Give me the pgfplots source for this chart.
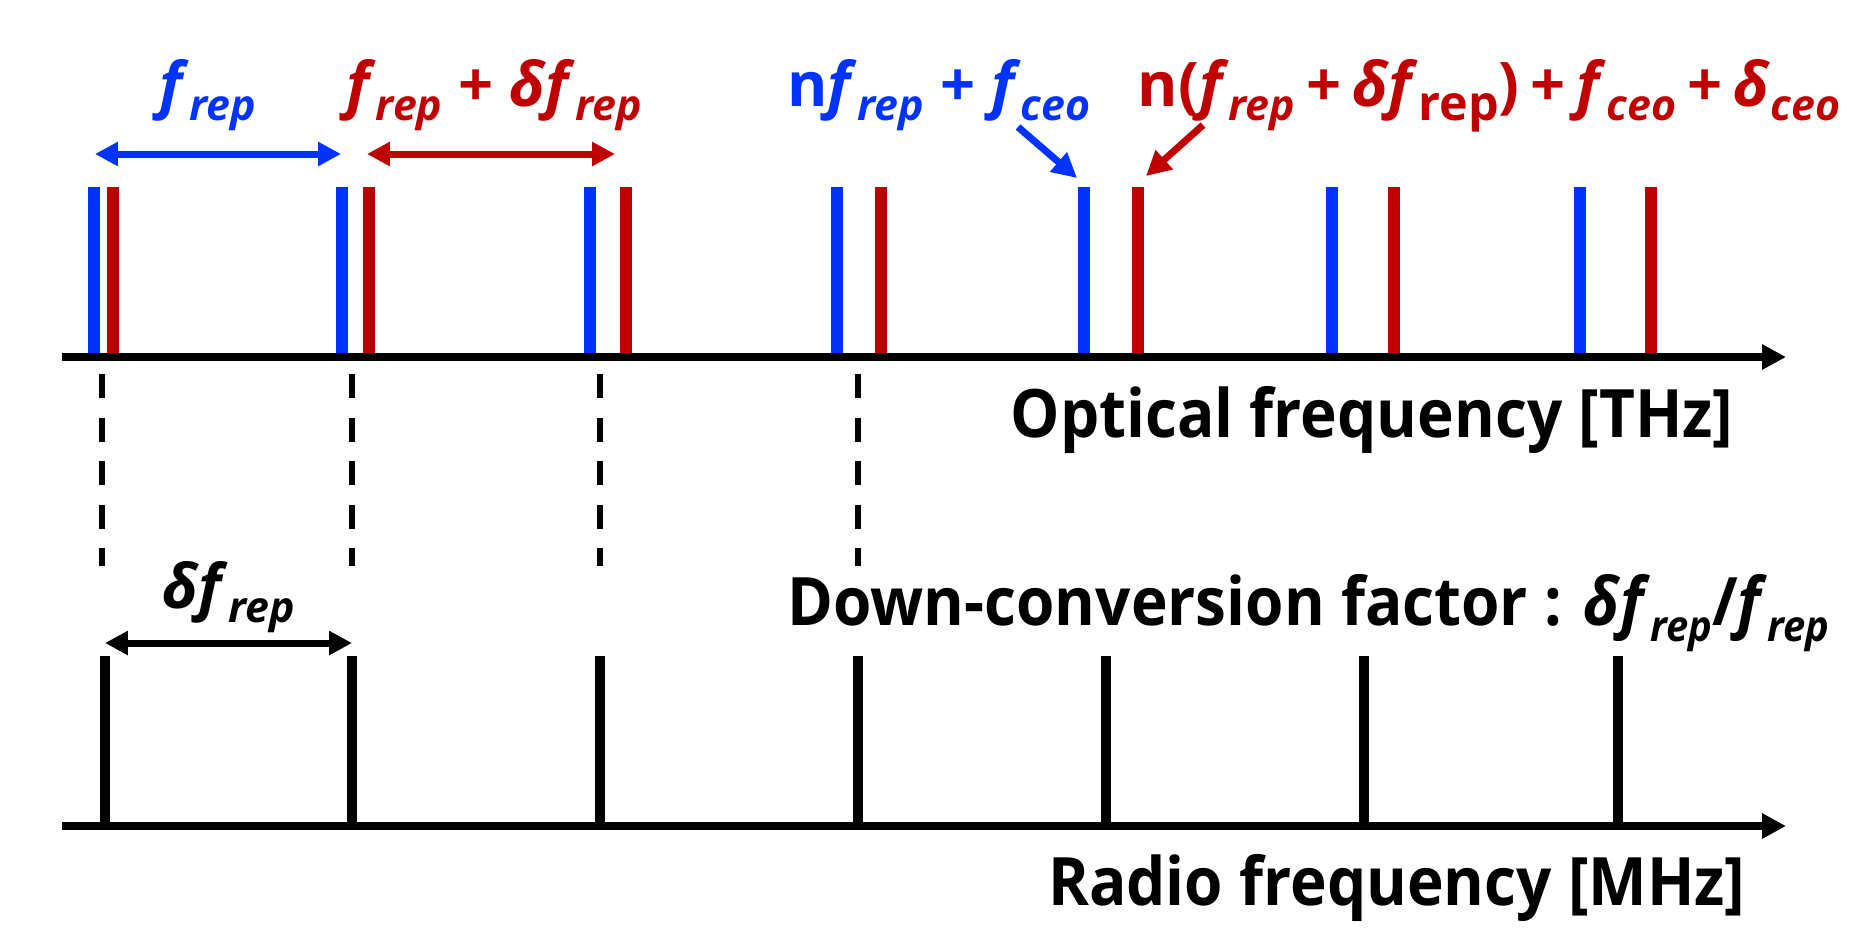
\documentclass[border=0pt]{standalone}
\usepackage{fontspec}
\setmainfont{Open Sans}
\newfontfamily\axfont{Open Sans}[FakeStretch=0.93]
\usepackage{pgfplots}
\pgfplotsset{compat=1.18}
\usetikzlibrary{arrows.meta}

\definecolor{cblue}{RGB}{0,51,255}
\definecolor{cred}{RGB}{192,0,0}

% subscripts: italic and upright
\newcommand\sub[1]{\raisebox{-0.24em}{\fontsize{12.2}{13}\selectfont\bfseries\itshape #1}}
\newcommand\subup[1]{\raisebox{-0.24em}{\fontsize{13.8}{14}\selectfont\bfseries\upshape #1}}
\newcommand\lab{\fontsize{17.5}{20}\selectfont\bfseries}
\newcommand\axlab{\axfont\fontsize{19}{22}\selectfont\bfseries}

\begin{document}
\begin{tikzpicture}
\begin{axis}[
    width=18.65cm, height=9.25cm, scale only axis,
    xmin=0, xmax=1865, ymin=0, ymax=925,
    y dir=reverse,
    hide axis, clip=false,
    unbounded coords=jump,
    every node/.style={inner sep=0pt},
]
% keep the whole canvas in the bounding box
\path (axis cs:0,0) rectangle (axis cs:1865,925);

% optical comb 1 (blue)
\addplot[cblue, line width=3.3pt, no marks] coordinates {
 (94,187) (94,357) (nan,nan)
 (342,187) (342,357) (nan,nan)
 (590,187) (590,357) (nan,nan)
 (837,187) (837,357) (nan,nan)
 (1084,187) (1084,357) (nan,nan)
 (1332,187) (1332,357) (nan,nan)
 (1580,187) (1580,357)};

% optical comb 2 (red)
\addplot[cred, line width=3.3pt, no marks] coordinates {
 (113,187) (113,357) (nan,nan)
 (369,187) (369,357) (nan,nan)
 (626,187) (626,357) (nan,nan)
 (881,187) (881,357) (nan,nan)
 (1138,187) (1138,357) (nan,nan)
 (1394,187) (1394,357) (nan,nan)
 (1651,187) (1651,357)};

% optical axis
\addplot[black, line width=2.3pt, no marks, -{Triangle[length=6.8pt,width=6.8pt]}]
  coordinates {(62,357) (1786,357)};

% dashed guides
\addplot[black, line width=1.5pt, no marks, dash pattern=on 6.9pt off 5.5pt] coordinates {
 (102,374) (102,566) (nan,nan)
 (352,374) (352,566) (nan,nan)
 (600,374) (600,566) (nan,nan)
 (858,374) (858,566)};

% RF comb (black)
\addplot[black, line width=3.05pt, no marks] coordinates {
 (105,656) (105,826) (nan,nan)
 (352,656) (352,826) (nan,nan)
 (600,656) (600,826) (nan,nan)
 (858,656) (858,826) (nan,nan)
 (1106,656) (1106,826) (nan,nan)
 (1364,656) (1364,826) (nan,nan)
 (1618,656) (1618,826)};

% RF axis
\addplot[black, line width=2.3pt, no marks, -{Triangle[length=6.8pt,width=6.8pt]}]
  coordinates {(62,826) (1786,826)};

% spacing arrows
\addplot[cblue, line width=2pt, no marks, {Triangle[length=6.5pt,width=6.5pt]}-{Triangle[length=6.5pt,width=6.5pt]}]
  coordinates {(95,154) (341,154)};
\addplot[cred, line width=2pt, no marks, {Triangle[length=6.5pt,width=6.5pt]}-{Triangle[length=6.5pt,width=6.5pt]}]
  coordinates {(367,154) (615,154)};
\addplot[black, line width=2pt, no marks, {Triangle[length=6.5pt,width=6.5pt]}-{Triangle[length=6.5pt,width=6.5pt]}]
  coordinates {(105,643) (352,643)};

% pointer arrows
\addplot[cblue, line width=2pt, no marks, -{Triangle[length=7pt,width=7pt]}]
  coordinates {(1018,127) (1077,178)};
\addplot[cred, line width=2pt, no marks, -{Triangle[length=7pt,width=7pt]}]
  coordinates {(1203,125) (1146,176)};

% labels
\node[anchor=base, text=cblue] at (axis cs:208,106) {\lab\textit{f}\sub{rep}};
\node[anchor=base, text=cred] at (axis cs:494,106) {\lab\textit{f}\sub{rep} + \textit{δf}\sub{rep}};
\node[anchor=base, text=cblue] at (axis cs:939,106) {\lab n\textit{f}\sub{rep} + \textit{f}\sub{ceo}};
\node[anchor=base, text=cred] at (axis cs:1489,106) {\lab\spaceskip=0.18em
  n(\textit{f}\sub{rep} + \textit{δf}\subup{rep}) + \textit{f}\sub{ceo} + \textit{δ}\sub{ceo}};
\node[anchor=base] at (axis cs:229,608) {\lab\textit{δf}\sub{rep}};

\node[anchor=base east] at (axis cs:1746,437) {\axlab Optical frequency [THz]};
\node[anchor=base east] at (axis cs:1842,625) {\axlab Down-conversion factor : \textit{δf}\sub{rep}/\textit{f}\sub{rep}};
\node[anchor=base east] at (axis cs:1758,905) {\axlab Radio frequency [MHz]};

\end{axis}
\end{tikzpicture}
\end{document}
